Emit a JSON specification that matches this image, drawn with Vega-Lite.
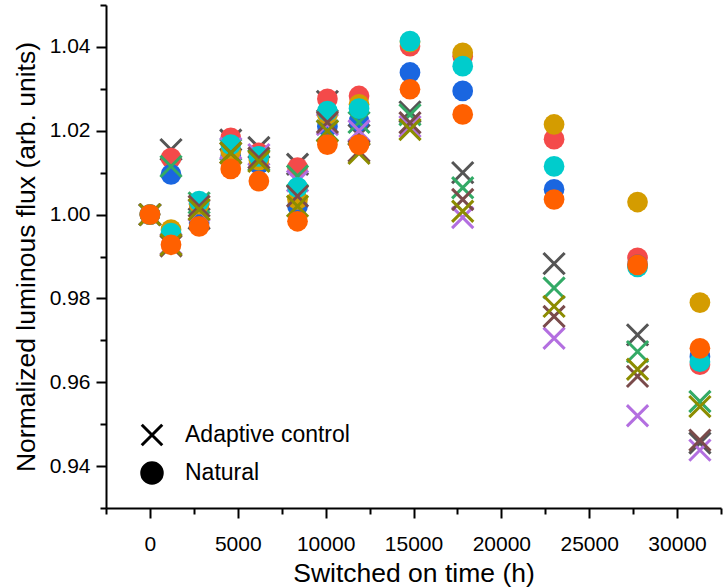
{
  "$schema": "https://vega.github.io/schema/vega-lite/v6.json",
  "autosize": {"type": "none"},
  "padding": {"left": 106, "top": 5, "right": 7, "bottom": 80},
  "width": 615,
  "height": 503,
  "background": "white",
  "config": {
    "view": {"stroke": null},
    "font": "Liberation Sans",
    "axis": {"grid": false, "domainColor": "black", "domainWidth": 2, "tickColor": "black", "tickWidth": 2, "labelColor": "black", "titleColor": "black", "labelFont": "Liberation Sans", "titleFont": "Liberation Sans", "labelFontSize": 21, "titleFontSize": 26.5, "titleFontWeight": "normal"}
  },
  "data": {"values": [
    {"series": "Adaptive 1", "type": "Adaptive control", "time": 0, "flux": 1.000},
    {"series": "Adaptive 1", "type": "Adaptive control", "time": 1200, "flux": 1.0155},
    {"series": "Adaptive 1", "type": "Adaptive control", "time": 2800, "flux": 0.999},
    {"series": "Adaptive 1", "type": "Adaptive control", "time": 4600, "flux": 1.0178},
    {"series": "Adaptive 1", "type": "Adaptive control", "time": 6200, "flux": 1.016},
    {"series": "Adaptive 1", "type": "Adaptive control", "time": 8400, "flux": 1.012},
    {"series": "Adaptive 1", "type": "Adaptive control", "time": 10100, "flux": 1.027},
    {"series": "Adaptive 1", "type": "Adaptive control", "time": 11900, "flux": 1.019},
    {"series": "Adaptive 1", "type": "Adaptive control", "time": 14800, "flux": 1.0245},
    {"series": "Adaptive 1", "type": "Adaptive control", "time": 17800, "flux": 1.010},
    {"series": "Adaptive 1", "type": "Adaptive control", "time": 23000, "flux": 0.9883},
    {"series": "Adaptive 1", "type": "Adaptive control", "time": 27750, "flux": 0.9713},
    {"series": "Adaptive 1", "type": "Adaptive control", "time": 31300, "flux": 0.9455},

    {"series": "Natural 1", "type": "Natural", "time": 0, "flux": 1.000},
    {"series": "Natural 1", "type": "Natural", "time": 1200, "flux": 1.0135},
    {"series": "Natural 1", "type": "Natural", "time": 2800, "flux": 1.0025},
    {"series": "Natural 1", "type": "Natural", "time": 4600, "flux": 1.0183},
    {"series": "Natural 1", "type": "Natural", "time": 6200, "flux": 1.0147},
    {"series": "Natural 1", "type": "Natural", "time": 8400, "flux": 1.0112},
    {"series": "Natural 1", "type": "Natural", "time": 10100, "flux": 1.0276},
    {"series": "Natural 1", "type": "Natural", "time": 11900, "flux": 1.0283},
    {"series": "Natural 1", "type": "Natural", "time": 14800, "flux": 1.0402},
    {"series": "Natural 1", "type": "Natural", "time": 17800, "flux": 1.0378},
    {"series": "Natural 1", "type": "Natural", "time": 23000, "flux": 1.018},
    {"series": "Natural 1", "type": "Natural", "time": 27750, "flux": 0.9897},
    {"series": "Natural 1", "type": "Natural", "time": 31300, "flux": 0.9642},

    {"series": "Natural 2", "type": "Natural", "time": 0, "flux": 1.000},
    {"series": "Natural 2", "type": "Natural", "time": 1200, "flux": 1.0096},
    {"series": "Natural 2", "type": "Natural", "time": 2800, "flux": 0.998},
    {"series": "Natural 2", "type": "Natural", "time": 4600, "flux": 1.014},
    {"series": "Natural 2", "type": "Natural", "time": 6200, "flux": 1.012},
    {"series": "Natural 2", "type": "Natural", "time": 8400, "flux": 1.002},
    {"series": "Natural 2", "type": "Natural", "time": 10100, "flux": 1.021},
    {"series": "Natural 2", "type": "Natural", "time": 11900, "flux": 1.0223},
    {"series": "Natural 2", "type": "Natural", "time": 14800, "flux": 1.0339},
    {"series": "Natural 2", "type": "Natural", "time": 17800, "flux": 1.0295},
    {"series": "Natural 2", "type": "Natural", "time": 23000, "flux": 1.006},
    {"series": "Natural 2", "type": "Natural", "time": 27750, "flux": 0.988},
    {"series": "Natural 2", "type": "Natural", "time": 31300, "flux": 0.9661},

    {"series": "Adaptive 2", "type": "Adaptive control", "time": 0, "flux": 1.000},
    {"series": "Adaptive 2", "type": "Adaptive control", "time": 1200, "flux": 1.0115},
    {"series": "Adaptive 2", "type": "Adaptive control", "time": 2800, "flux": 1.0028},
    {"series": "Adaptive 2", "type": "Adaptive control", "time": 4600, "flux": 1.0155},
    {"series": "Adaptive 2", "type": "Adaptive control", "time": 6200, "flux": 1.013},
    {"series": "Adaptive 2", "type": "Adaptive control", "time": 8400, "flux": 1.0092},
    {"series": "Adaptive 2", "type": "Adaptive control", "time": 10100, "flux": 1.020},
    {"series": "Adaptive 2", "type": "Adaptive control", "time": 11900, "flux": 1.022},
    {"series": "Adaptive 2", "type": "Adaptive control", "time": 14800, "flux": 1.0238},
    {"series": "Adaptive 2", "type": "Adaptive control", "time": 17800, "flux": 1.0064},
    {"series": "Adaptive 2", "type": "Adaptive control", "time": 23000, "flux": 0.9825},
    {"series": "Adaptive 2", "type": "Adaptive control", "time": 27750, "flux": 0.9673},
    {"series": "Adaptive 2", "type": "Adaptive control", "time": 31300, "flux": 0.9554},

    {"series": "Adaptive 3", "type": "Adaptive control", "time": 0, "flux": 1.000},
    {"series": "Adaptive 3", "type": "Adaptive control", "time": 1200, "flux": 0.993},
    {"series": "Adaptive 3", "type": "Adaptive control", "time": 2800, "flux": 1.001},
    {"series": "Adaptive 3", "type": "Adaptive control", "time": 4600, "flux": 1.0158},
    {"series": "Adaptive 3", "type": "Adaptive control", "time": 6200, "flux": 1.0143},
    {"series": "Adaptive 3", "type": "Adaptive control", "time": 8400, "flux": 1.008},
    {"series": "Adaptive 3", "type": "Adaptive control", "time": 10100, "flux": 1.0215},
    {"series": "Adaptive 3", "type": "Adaptive control", "time": 11900, "flux": 1.020},
    {"series": "Adaptive 3", "type": "Adaptive control", "time": 14800, "flux": 1.021},
    {"series": "Adaptive 3", "type": "Adaptive control", "time": 17800, "flux": 0.9993},
    {"series": "Adaptive 3", "type": "Adaptive control", "time": 23000, "flux": 0.9705},
    {"series": "Adaptive 3", "type": "Adaptive control", "time": 27750, "flux": 0.952},
    {"series": "Adaptive 3", "type": "Adaptive control", "time": 31300, "flux": 0.9438},

    {"series": "Natural 3", "type": "Natural", "time": 0, "flux": 1.000},
    {"series": "Natural 3", "type": "Natural", "time": 1200, "flux": 0.9964},
    {"series": "Natural 3", "type": "Natural", "time": 2800, "flux": 1.0025},
    {"series": "Natural 3", "type": "Natural", "time": 4600, "flux": 1.0151},
    {"series": "Natural 3", "type": "Natural", "time": 6200, "flux": 1.013},
    {"series": "Natural 3", "type": "Natural", "time": 8400, "flux": 1.0036},
    {"series": "Natural 3", "type": "Natural", "time": 10100, "flux": 1.0239},
    {"series": "Natural 3", "type": "Natural", "time": 11900, "flux": 1.0263},
    {"series": "Natural 3", "type": "Natural", "time": 14800, "flux": 1.0412},
    {"series": "Natural 3", "type": "Natural", "time": 17800, "flux": 1.0386},
    {"series": "Natural 3", "type": "Natural", "time": 23000, "flux": 1.0215},
    {"series": "Natural 3", "type": "Natural", "time": 27750, "flux": 1.003},
    {"series": "Natural 3", "type": "Natural", "time": 31300, "flux": 0.979},

    {"series": "Natural 4", "type": "Natural", "time": 0, "flux": 1.000},
    {"series": "Natural 4", "type": "Natural", "time": 1200, "flux": 0.9956},
    {"series": "Natural 4", "type": "Natural", "time": 2800, "flux": 1.0032},
    {"series": "Natural 4", "type": "Natural", "time": 4600, "flux": 1.0167},
    {"series": "Natural 4", "type": "Natural", "time": 6200, "flux": 1.0139},
    {"series": "Natural 4", "type": "Natural", "time": 8400, "flux": 1.0065},
    {"series": "Natural 4", "type": "Natural", "time": 10100, "flux": 1.0247},
    {"series": "Natural 4", "type": "Natural", "time": 11900, "flux": 1.0253},
    {"series": "Natural 4", "type": "Natural", "time": 14800, "flux": 1.0414},
    {"series": "Natural 4", "type": "Natural", "time": 17800, "flux": 1.0354},
    {"series": "Natural 4", "type": "Natural", "time": 23000, "flux": 1.0115},
    {"series": "Natural 4", "type": "Natural", "time": 27750, "flux": 0.9875},
    {"series": "Natural 4", "type": "Natural", "time": 31300, "flux": 0.9649},

    {"series": "Adaptive 4", "type": "Adaptive control", "time": 0, "flux": 1.000},
    {"series": "Adaptive 4", "type": "Adaptive control", "time": 1200, "flux": 0.9925},
    {"series": "Adaptive 4", "type": "Adaptive control", "time": 2800, "flux": 1.002},
    {"series": "Adaptive 4", "type": "Adaptive control", "time": 4600, "flux": 1.0147},
    {"series": "Adaptive 4", "type": "Adaptive control", "time": 6200, "flux": 1.0135},
    {"series": "Adaptive 4", "type": "Adaptive control", "time": 8400, "flux": 1.0044},
    {"series": "Adaptive 4", "type": "Adaptive control", "time": 10100, "flux": 1.022},
    {"series": "Adaptive 4", "type": "Adaptive control", "time": 11900, "flux": 1.0151},
    {"series": "Adaptive 4", "type": "Adaptive control", "time": 14800, "flux": 1.0219},
    {"series": "Adaptive 4", "type": "Adaptive control", "time": 17800, "flux": 1.0036},
    {"series": "Adaptive 4", "type": "Adaptive control", "time": 23000, "flux": 0.9757},
    {"series": "Adaptive 4", "type": "Adaptive control", "time": 27750, "flux": 0.9614},
    {"series": "Adaptive 4", "type": "Adaptive control", "time": 31300, "flux": 0.9462},

    {"series": "Adaptive 5", "type": "Adaptive control", "time": 0, "flux": 1.000},
    {"series": "Adaptive 5", "type": "Adaptive control", "time": 1200, "flux": 0.9928},
    {"series": "Adaptive 5", "type": "Adaptive control", "time": 2800, "flux": 1.0012},
    {"series": "Adaptive 5", "type": "Adaptive control", "time": 4600, "flux": 1.0147},
    {"series": "Adaptive 5", "type": "Adaptive control", "time": 6200, "flux": 1.0127},
    {"series": "Adaptive 5", "type": "Adaptive control", "time": 8400, "flux": 1.002},
    {"series": "Adaptive 5", "type": "Adaptive control", "time": 10100, "flux": 1.0199},
    {"series": "Adaptive 5", "type": "Adaptive control", "time": 11900, "flux": 1.0146},
    {"series": "Adaptive 5", "type": "Adaptive control", "time": 14800, "flux": 1.0203},
    {"series": "Adaptive 5", "type": "Adaptive control", "time": 17800, "flux": 1.0008},
    {"series": "Adaptive 5", "type": "Adaptive control", "time": 23000, "flux": 0.9781},
    {"series": "Adaptive 5", "type": "Adaptive control", "time": 27750, "flux": 0.9631},
    {"series": "Adaptive 5", "type": "Adaptive control", "time": 31300, "flux": 0.9542},

    {"series": "Natural 5", "type": "Natural", "time": 0, "flux": 1.000},
    {"series": "Natural 5", "type": "Natural", "time": 1200, "flux": 0.9928},
    {"series": "Natural 5", "type": "Natural", "time": 2800, "flux": 0.9972},
    {"series": "Natural 5", "type": "Natural", "time": 4600, "flux": 1.0109},
    {"series": "Natural 5", "type": "Natural", "time": 6200, "flux": 1.008},
    {"series": "Natural 5", "type": "Natural", "time": 8400, "flux": 0.9984},
    {"series": "Natural 5", "type": "Natural", "time": 10100, "flux": 1.0167},
    {"series": "Natural 5", "type": "Natural", "time": 11900, "flux": 1.0167},
    {"series": "Natural 5", "type": "Natural", "time": 14800, "flux": 1.0299},
    {"series": "Natural 5", "type": "Natural", "time": 17800, "flux": 1.0239},
    {"series": "Natural 5", "type": "Natural", "time": 23000, "flux": 1.0036},
    {"series": "Natural 5", "type": "Natural", "time": 27750, "flux": 0.988},
    {"series": "Natural 5", "type": "Natural", "time": 31300, "flux": 0.9681}
  ]},
  "mark": {"type": "point", "opacity": 1},
  "encoding": {
    "x": {
      "field": "time", "type": "quantitative",
      "scale": {"domain": [-2500, 32500], "nice": false, "zero": false},
      "axis": {
        "title": "Switched on time (h)",
        "values": [-2500, 0, 2500, 5000, 7500, 10000, 12500, 15000, 17500, 20000, 22500, 25000, 27500, 30000, 32500],
        "labelExpr": "datum.value % 5000 === 0 ? format(datum.value, 'd') : ''",
        "tickSize": {"condition": {"test": "datum.value % 5000 === 0", "value": 10}, "value": 6},
        "labelPadding": 15,
        "labelFlush": false,
        "labelOverlap": false,
        "titlePadding": 6
      }
    },
    "y": {
      "field": "flux", "type": "quantitative",
      "scale": {"domain": [0.93, 1.05], "nice": false, "zero": false},
      "axis": {
        "title": "Normalized luminous flux (arb. units)",
        "values": [0.93, 0.94, 0.95, 0.96, 0.97, 0.98, 0.99, 1.0, 1.01, 1.02, 1.03, 1.04, 1.05],
        "labelExpr": "round(datum.value * 100) % 2 === 0 ? format(datum.value, '.2f') : ''",
        "tickSize": {"condition": {"test": "round(datum.value * 100) % 2 === 0", "value": 10}, "value": 6},
        "labelPadding": 6,
        "labelFlush": false,
        "labelOverlap": false,
        "titlePadding": 9
      }
    },
    "shape": {
      "field": "type", "type": "nominal",
      "scale": {"domain": ["Adaptive control", "Natural"], "range": ["M-1,-1L1,1M1,-1L-1,1", "circle"]},
      "legend": {
        "title": null,
        "orient": "none",
        "legendX": 34,
        "legendY": 418,
        "padding": 0,
        "symbolSize": 420,
        "symbolFillColor": "black",
        "symbolStrokeColor": "black",
        "symbolStrokeWidth": 3,
        "symbolOpacity": 1,
        "rowPadding": 4,
        "labelOffset": 21,
        "labelFontSize": 23,
        "labelLimit": 400,
        "labelFont": "Liberation Sans",
        "labelColor": "black",
        "encode": {
          "symbols": {"update": {
            "fill": {"value": "black"},
            "stroke": {"value": "black"},
            "strokeWidth": {"value": 3}
          }}
        }
      }
    },
    "fill": {
      "field": "series", "type": "nominal", "legend": null,
      "scale": {
        "domain": ["Adaptive 1", "Adaptive 2", "Adaptive 3", "Adaptive 4", "Adaptive 5", "Natural 1", "Natural 2", "Natural 3", "Natural 4", "Natural 5"],
        "range": ["#555555", "#33aa66", "#b36fe0", "#7a4b4b", "#8c8c00", "#f44a4a", "#1a66e0", "#d49c00", "#00cccc", "#ff6000"]
      }
    },
    "stroke": {
      "field": "series", "type": "nominal", "legend": null,
      "scale": {
        "domain": ["Adaptive 1", "Adaptive 2", "Adaptive 3", "Adaptive 4", "Adaptive 5", "Natural 1", "Natural 2", "Natural 3", "Natural 4", "Natural 5"],
        "range": ["#555555", "#33aa66", "#b36fe0", "#7a4b4b", "#8c8c00", "#f44a4a", "#1a66e0", "#d49c00", "#00cccc", "#ff6000"]
      }
    },
    "strokeWidth": {"condition": {"test": "datum.type === 'Adaptive control'", "value": 3}, "value": 0},
    "size": {"condition": {"test": "datum.type === 'Natural'", "value": 430}, "value": 450}
  }
}
